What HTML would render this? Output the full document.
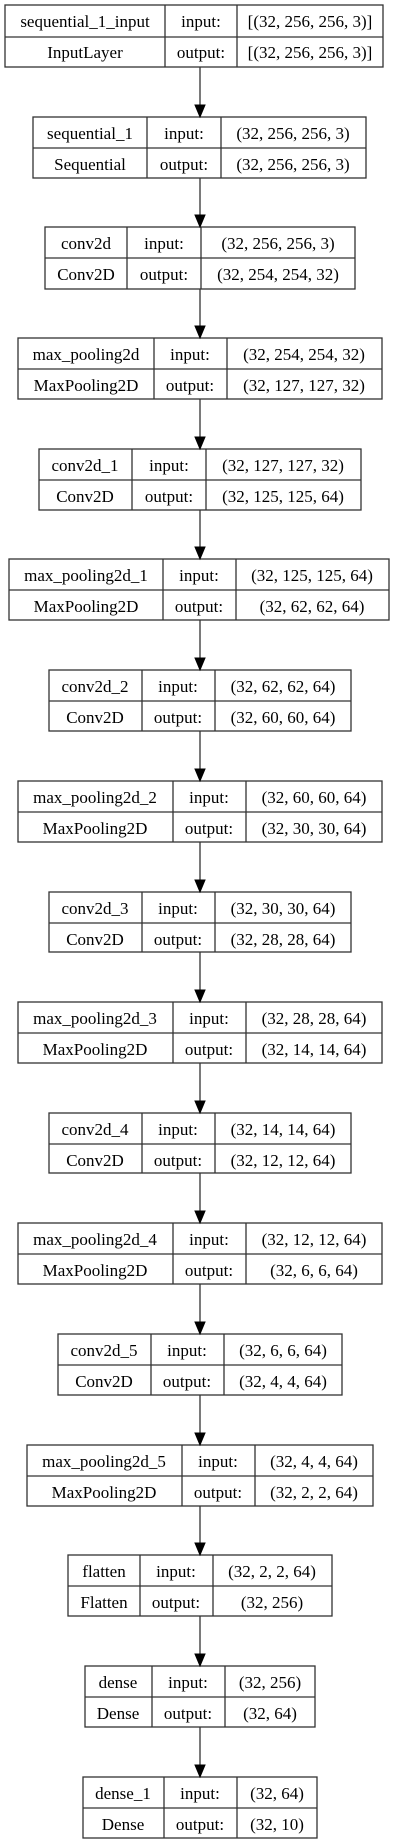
<!DOCTYPE html>
<html><head><meta charset="utf-8"><style>
html,body{margin:0;padding:0;background:#fff;}
svg{display:block;}
text{font-family:"Liberation Serif",serif;font-size:17px;fill:#000;text-anchor:middle;}
rect,line.b{stroke:#333;stroke-width:1.3;fill:none;}
line.a{stroke:#333;stroke-width:1.3;}
polygon{fill:#000;stroke:#000;stroke-width:1;}
</style></head><body>
<svg width="400" height="1844" viewBox="0 0 400 1844" xmlns="http://www.w3.org/2000/svg">
<g transform="translate(0,5)"><rect x="5" y="0" width="378" height="62"/><line class="b" x1="5" y1="32" x2="383" y2="32"/><line class="b" x1="165" y1="0" x2="165" y2="62"/><line class="b" x1="237" y1="0" x2="237" y2="62"/>
<text x="85" y="22">sequential_1_input</text><text x="201" y="22">input:</text><text x="310" y="22">[(32, 256, 256, 3)]</text>
<text x="85" y="53">InputLayer</text><text x="201" y="53">output:</text><text x="310" y="53">[(32, 256, 256, 3)]</text></g>
<g transform="translate(0,117)"><rect x="33" y="0" width="333" height="61"/><line class="b" x1="33" y1="31" x2="366" y2="31"/><line class="b" x1="147" y1="0" x2="147" y2="61"/><line class="b" x1="221" y1="0" x2="221" y2="61"/>
<text x="90" y="22">sequential_1</text><text x="184" y="22">input:</text><text x="293" y="22">(32, 256, 256, 3)</text>
<text x="90" y="53">Sequential</text><text x="184" y="53">output:</text><text x="293" y="53">(32, 256, 256, 3)</text></g>
<g transform="translate(0,227)"><rect x="45" y="0" width="310" height="62"/><line class="b" x1="45" y1="31" x2="355" y2="31"/><line class="b" x1="127" y1="0" x2="127" y2="62"/><line class="b" x1="201" y1="0" x2="201" y2="62"/>
<text x="86" y="22">conv2d</text><text x="164" y="22">input:</text><text x="278" y="22">(32, 256, 256, 3)</text>
<text x="86" y="53">Conv2D</text><text x="164" y="53">output:</text><text x="278" y="53">(32, 254, 254, 32)</text></g>
<g transform="translate(0,338)"><rect x="18" y="0" width="364" height="61"/><line class="b" x1="18" y1="31" x2="382" y2="31"/><line class="b" x1="154" y1="0" x2="154" y2="61"/><line class="b" x1="227" y1="0" x2="227" y2="61"/>
<text x="86" y="22">max_pooling2d</text><text x="190" y="22">input:</text><text x="304" y="22">(32, 254, 254, 32)</text>
<text x="86" y="53">MaxPooling2D</text><text x="190" y="53">output:</text><text x="304" y="53">(32, 127, 127, 32)</text></g>
<g transform="translate(0,449)"><rect x="39" y="0" width="322" height="61"/><line class="b" x1="39" y1="31" x2="361" y2="31"/><line class="b" x1="132" y1="0" x2="132" y2="61"/><line class="b" x1="206" y1="0" x2="206" y2="61"/>
<text x="85" y="22">conv2d_1</text><text x="169" y="22">input:</text><text x="283" y="22">(32, 127, 127, 32)</text>
<text x="85" y="53">Conv2D</text><text x="169" y="53">output:</text><text x="283" y="53">(32, 125, 125, 64)</text></g>
<g transform="translate(0,559)"><rect x="9" y="0" width="380" height="61"/><line class="b" x1="9" y1="31" x2="389" y2="31"/><line class="b" x1="163" y1="0" x2="163" y2="61"/><line class="b" x1="236" y1="0" x2="236" y2="61"/>
<text x="86" y="22">max_pooling2d_1</text><text x="199" y="22">input:</text><text x="312" y="22">(32, 125, 125, 64)</text>
<text x="86" y="53">MaxPooling2D</text><text x="199" y="53">output:</text><text x="312" y="53">(32, 62, 62, 64)</text></g>
<g transform="translate(0,670)"><rect x="49" y="0" width="302" height="61"/><line class="b" x1="49" y1="31" x2="351" y2="31"/><line class="b" x1="142" y1="0" x2="142" y2="61"/><line class="b" x1="215" y1="0" x2="215" y2="61"/>
<text x="95" y="22">conv2d_2</text><text x="178" y="22">input:</text><text x="283" y="22">(32, 62, 62, 64)</text>
<text x="95" y="53">Conv2D</text><text x="178" y="53">output:</text><text x="283" y="53">(32, 60, 60, 64)</text></g>
<g transform="translate(0,781)"><rect x="18" y="0" width="364" height="61"/><line class="b" x1="18" y1="31" x2="382" y2="31"/><line class="b" x1="173" y1="0" x2="173" y2="61"/><line class="b" x1="246" y1="0" x2="246" y2="61"/>
<text x="95" y="22">max_pooling2d_2</text><text x="209" y="22">input:</text><text x="314" y="22">(32, 60, 60, 64)</text>
<text x="95" y="53">MaxPooling2D</text><text x="209" y="53">output:</text><text x="314" y="53">(32, 30, 30, 64)</text></g>
<g transform="translate(0,892)"><rect x="49" y="0" width="302" height="60"/><line class="b" x1="49" y1="31" x2="351" y2="31"/><line class="b" x1="142" y1="0" x2="142" y2="60"/><line class="b" x1="215" y1="0" x2="215" y2="60"/>
<text x="95" y="22">conv2d_3</text><text x="178" y="22">input:</text><text x="283" y="22">(32, 30, 30, 64)</text>
<text x="95" y="53">Conv2D</text><text x="178" y="53">output:</text><text x="283" y="53">(32, 28, 28, 64)</text></g>
<g transform="translate(0,1002)"><rect x="18" y="0" width="364" height="61"/><line class="b" x1="18" y1="31" x2="382" y2="31"/><line class="b" x1="173" y1="0" x2="173" y2="61"/><line class="b" x1="246" y1="0" x2="246" y2="61"/>
<text x="95" y="22">max_pooling2d_3</text><text x="209" y="22">input:</text><text x="314" y="22">(32, 28, 28, 64)</text>
<text x="95" y="53">MaxPooling2D</text><text x="209" y="53">output:</text><text x="314" y="53">(32, 14, 14, 64)</text></g>
<g transform="translate(0,1113)"><rect x="49" y="0" width="302" height="60"/><line class="b" x1="49" y1="31" x2="351" y2="31"/><line class="b" x1="142" y1="0" x2="142" y2="60"/><line class="b" x1="215" y1="0" x2="215" y2="60"/>
<text x="95" y="22">conv2d_4</text><text x="178" y="22">input:</text><text x="283" y="22">(32, 14, 14, 64)</text>
<text x="95" y="53">Conv2D</text><text x="178" y="53">output:</text><text x="283" y="53">(32, 12, 12, 64)</text></g>
<g transform="translate(0,1223)"><rect x="18" y="0" width="364" height="61"/><line class="b" x1="18" y1="31" x2="382" y2="31"/><line class="b" x1="173" y1="0" x2="173" y2="61"/><line class="b" x1="246" y1="0" x2="246" y2="61"/>
<text x="95" y="22">max_pooling2d_4</text><text x="209" y="22">input:</text><text x="314" y="22">(32, 12, 12, 64)</text>
<text x="95" y="53">MaxPooling2D</text><text x="209" y="53">output:</text><text x="314" y="53">(32, 6, 6, 64)</text></g>
<g transform="translate(0,1334)"><rect x="58" y="0" width="284" height="61"/><line class="b" x1="58" y1="31" x2="342" y2="31"/><line class="b" x1="151" y1="0" x2="151" y2="61"/><line class="b" x1="224" y1="0" x2="224" y2="61"/>
<text x="104" y="22">conv2d_5</text><text x="187" y="22">input:</text><text x="283" y="22">(32, 6, 6, 64)</text>
<text x="104" y="53">Conv2D</text><text x="187" y="53">output:</text><text x="283" y="53">(32, 4, 4, 64)</text></g>
<g transform="translate(0,1445)"><rect x="27" y="0" width="346" height="61"/><line class="b" x1="27" y1="31" x2="373" y2="31"/><line class="b" x1="182" y1="0" x2="182" y2="61"/><line class="b" x1="255" y1="0" x2="255" y2="61"/>
<text x="104" y="22">max_pooling2d_5</text><text x="218" y="22">input:</text><text x="314" y="22">(32, 4, 4, 64)</text>
<text x="104" y="53">MaxPooling2D</text><text x="218" y="53">output:</text><text x="314" y="53">(32, 2, 2, 64)</text></g>
<g transform="translate(0,1555)"><rect x="68" y="0" width="264" height="61"/><line class="b" x1="68" y1="31" x2="332" y2="31"/><line class="b" x1="140" y1="0" x2="140" y2="61"/><line class="b" x1="213" y1="0" x2="213" y2="61"/>
<text x="104" y="22">flatten</text><text x="176" y="22">input:</text><text x="272" y="22">(32, 2, 2, 64)</text>
<text x="104" y="53">Flatten</text><text x="176" y="53">output:</text><text x="272" y="53">(32, 256)</text></g>
<g transform="translate(0,1666)"><rect x="85" y="0" width="230" height="61"/><line class="b" x1="85" y1="31" x2="315" y2="31"/><line class="b" x1="152" y1="0" x2="152" y2="61"/><line class="b" x1="225" y1="0" x2="225" y2="61"/>
<text x="118" y="22">dense</text><text x="188" y="22">input:</text><text x="270" y="22">(32, 256)</text>
<text x="118" y="53">Dense</text><text x="188" y="53">output:</text><text x="270" y="53">(32, 64)</text></g>
<g transform="translate(0,1777)"><rect x="83" y="0" width="234" height="61"/><line class="b" x1="83" y1="31" x2="317" y2="31"/><line class="b" x1="164" y1="0" x2="164" y2="61"/><line class="b" x1="237" y1="0" x2="237" y2="61"/>
<text x="123" y="22">dense_1</text><text x="200" y="22">input:</text><text x="277" y="22">(32, 64)</text>
<text x="123" y="53">Dense</text><text x="200" y="53">output:</text><text x="277" y="53">(32, 10)</text></g>
<line class="a" x1="200" y1="67" x2="200" y2="106"/><polygon points="195,105 205,105 200,117"/>
<line class="a" x1="200" y1="178" x2="200" y2="216"/><polygon points="195,215 205,215 200,227"/>
<line class="a" x1="200" y1="289" x2="200" y2="327"/><polygon points="195,326 205,326 200,338"/>
<line class="a" x1="200" y1="399" x2="200" y2="438"/><polygon points="195,437 205,437 200,449"/>
<line class="a" x1="200" y1="510" x2="200" y2="548"/><polygon points="195,547 205,547 200,559"/>
<line class="a" x1="200" y1="620" x2="200" y2="659"/><polygon points="195,658 205,658 200,670"/>
<line class="a" x1="200" y1="731" x2="200" y2="770"/><polygon points="195,769 205,769 200,781"/>
<line class="a" x1="200" y1="842" x2="200" y2="881"/><polygon points="195,880 205,880 200,892"/>
<line class="a" x1="200" y1="952" x2="200" y2="991"/><polygon points="195,990 205,990 200,1002"/>
<line class="a" x1="200" y1="1063" x2="200" y2="1102"/><polygon points="195,1101 205,1101 200,1113"/>
<line class="a" x1="200" y1="1173" x2="200" y2="1212"/><polygon points="195,1211 205,1211 200,1223"/>
<line class="a" x1="200" y1="1284" x2="200" y2="1323"/><polygon points="195,1322 205,1322 200,1334"/>
<line class="a" x1="200" y1="1395" x2="200" y2="1434"/><polygon points="195,1433 205,1433 200,1445"/>
<line class="a" x1="200" y1="1506" x2="200" y2="1544"/><polygon points="195,1543 205,1543 200,1555"/>
<line class="a" x1="200" y1="1616" x2="200" y2="1655"/><polygon points="195,1654 205,1654 200,1666"/>
<line class="a" x1="200" y1="1727" x2="200" y2="1766"/><polygon points="195,1765 205,1765 200,1777"/>
</svg>
</body></html>
